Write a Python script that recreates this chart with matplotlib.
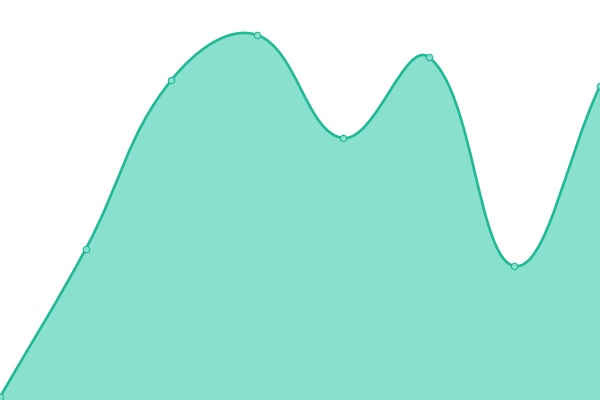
import numpy as np
import matplotlib
matplotlib.use("Agg")
import matplotlib.pyplot as plt
from matplotlib.path import Path
from matplotlib.patches import PathPatch

# Series values (pixel-ish units, 0 at the bottom of the plot)
categories = ["A", "B", "C", "D", "E", "F", "G", "H"]
values = [3, 151, 320, 365, 262, 343, 134, 314]

LINE = "#20b995"
FILL = "#89e0cf"
SMOOTH = 0.4

W, H = 600, 400


def smooth_controls(px, py, smooth=SMOOTH):
    """Cubic bezier control points, same idea as echarts' smooth line."""
    n = len(px)
    segs = []
    cps_out = []
    cps_in = []
    for i in range(n):
        x, y = px[i], py[i]
        xp, yp = (px[i - 1], py[i - 1]) if i > 0 else (x, y)
        xn, yn = (px[i + 1], py[i + 1]) if i < n - 1 else (x, y)
        vx, vy = xn - xp, yn - yp
        l0 = np.hypot(x - xp, y - yp)
        l1 = np.hypot(xn - x, yn - y)
        r = l1 / (l0 + l1) if (l0 + l1) > 0 else 0.5
        cps_in.append((x - vx * smooth * (1 - r), y - vy * smooth * (1 - r)))
        cps_out.append((x + vx * smooth * r, y + vy * smooth * r))
    for i in range(n - 1):
        segs.append((cps_out[i], cps_in[i + 1], (px[i + 1], py[i + 1])))
    return segs


step = W / (len(categories) - 1)
xs = np.arange(len(categories)) * step
ys = np.array(values, dtype=float)

segs = smooth_controls(xs, ys)
verts = [(xs[0], ys[0])]
codes = [Path.MOVETO]
for c1, c2, p in segs:
    verts += [c1, c2, p]
    codes += [Path.CURVE4] * 3

fig = plt.figure(figsize=(6, 4), dpi=100)
ax = fig.add_axes([0, 0, 1, 1])
ax.set_xlim(0, W)
ax.set_ylim(0, H)
ax.axis("off")

area_verts = verts + [(xs[-1], 0), (xs[0], 0), (xs[0], ys[0])]
area_codes = codes + [Path.LINETO, Path.LINETO, Path.CLOSEPOLY]
ax.add_patch(PathPatch(Path(area_verts, area_codes), facecolor=FILL,
                       edgecolor="none", zorder=1))
ax.add_patch(PathPatch(Path(verts, codes), facecolor="none", edgecolor=LINE,
                       linewidth=1.9, zorder=2, capstyle="round"))
ax.plot(xs, ys, linestyle="none", marker="o", markersize=4.6,
        markerfacecolor=FILL, markeredgecolor=LINE, markeredgewidth=0.8,
        zorder=3, clip_on=False)

fig.savefig("out.png", dpi=100)
